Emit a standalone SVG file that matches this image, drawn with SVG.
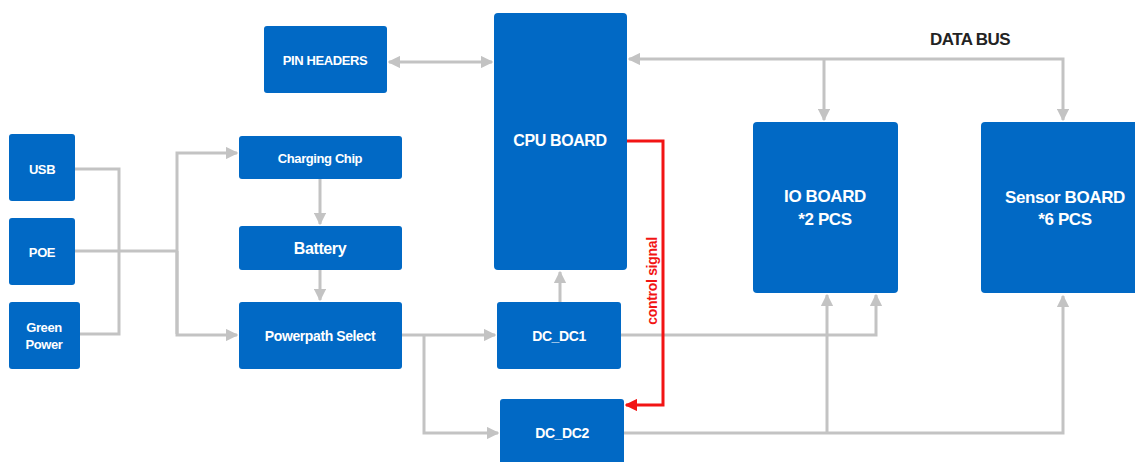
<svg xmlns="http://www.w3.org/2000/svg" width="1135" height="462" viewBox="0 0 1135 462">
  <style>
    .box { fill: #0169C5; }
    .lbl { fill: #ffffff; font-family: "Liberation Sans", Arial, sans-serif; font-weight: bold; text-anchor: middle; letter-spacing: -0.4px; }
    .wire { fill: none; stroke: #C3C3C3; stroke-width: 3; }
    .ctrl { fill: none; stroke: #F21414; stroke-width: 3; }
  </style>
  <defs>
    <marker id="arrow" viewBox="0 0 10 10" refX="9" refY="5" markerWidth="4.2" markerHeight="4.2" orient="auto-start-reverse" markerUnits="strokeWidth">
      <path d="M0,0 L10,5 L0,10 z" fill="#C3C3C3"/>
    </marker>
    <marker id="arrowRed" viewBox="0 0 10 10" refX="9" refY="5" markerWidth="4.2" markerHeight="4.2" orient="auto" markerUnits="strokeWidth">
      <path d="M0,0 L10,5 L0,10 z" fill="#F21414"/>
    </marker>
  </defs>
  <rect width="1135" height="462" fill="#ffffff"/>

  <!-- connectors -->
  <g id="connectors">
    <!-- power sources merge -->
    <polyline class="wire" points="75,169 119,169 119,334 80,334"/>
    <line class="wire" x1="75" y1="251" x2="177" y2="251"/>
    <polyline class="wire" points="177,334 177,153 237,153" marker-end="url(#arrow)"/>
    <polyline class="wire" points="177,251 177,335 237,335" marker-end="url(#arrow)"/>
    <!-- charging chain -->
    <line class="wire" x1="320" y1="179" x2="320" y2="224" marker-end="url(#arrow)"/>
    <line class="wire" x1="320" y1="270" x2="320" y2="300" marker-end="url(#arrow)"/>
    <!-- pin headers <-> cpu -->
    <line class="wire" x1="389" y1="62" x2="492" y2="62" marker-start="url(#arrow)" marker-end="url(#arrow)"/>
    <!-- powerpath to converters -->
    <line class="wire" x1="402" y1="335" x2="495" y2="335" marker-end="url(#arrow)"/>
    <polyline class="wire" points="424,335 424,433 498,433" marker-end="url(#arrow)"/>
    <!-- dc_dc1 to cpu -->
    <line class="wire" x1="560" y1="302" x2="560" y2="272" marker-end="url(#arrow)"/>
    <!-- dc_dc1 to io board -->
    <polyline class="wire" points="621,335 876,335 876,295" marker-end="url(#arrow)"/>
    <!-- dc_dc2 to io and sensor boards -->
    <polyline class="wire" points="624,433 1063,433 1063,296" marker-end="url(#arrow)"/>
    <line class="wire" x1="827" y1="433" x2="827" y2="295" marker-end="url(#arrow)"/>
    <!-- data bus -->
    <polyline class="wire" points="1063,120 1063,59 629,59" marker-start="url(#arrow)" marker-end="url(#arrow)"/>
    <line class="wire" x1="824" y1="59" x2="824" y2="120" marker-end="url(#arrow)"/>
    <!-- control signal -->
    <polyline class="ctrl" points="627,141 663,141 663,405 626,405" marker-end="url(#arrowRed)"/>
    <text x="0" y="0" transform="translate(657,281) rotate(-90)" font-family="'Liberation Sans', Arial, sans-serif" font-weight="bold" font-size="14" fill="#F21414" text-anchor="middle" letter-spacing="-0.3">control signal</text>
    <text x="970" y="45" font-family="'Liberation Sans', Arial, sans-serif" font-weight="bold" font-size="17" fill="#232323" text-anchor="middle" letter-spacing="-0.6">DATA BUS</text>
  </g>

  <!-- nodes -->
  <g id="usb">
    <rect class="box" x="9" y="134" width="66" height="67" rx="3"/>
    <text class="lbl" x="42" y="174" font-size="13">USB</text>
  </g>
  <g id="poe">
    <rect class="box" x="9" y="218" width="66" height="67" rx="3"/>
    <text class="lbl" x="42" y="257" font-size="13">POE</text>
  </g>
  <g id="green-power">
    <rect class="box" x="9" y="302" width="71" height="67" rx="3"/>
    <text class="lbl" x="44" y="332" font-size="13">Green</text>
    <text class="lbl" x="44" y="349" font-size="13">Power</text>
  </g>
  <g id="pin-headers">
    <rect class="box" x="264" y="26" width="123" height="67" rx="3"/>
    <text class="lbl" x="325" y="65" font-size="13">PIN HEADERS</text>
  </g>
  <g id="charging-chip">
    <rect class="box" x="239" y="136" width="163" height="43" rx="3"/>
    <text class="lbl" x="320" y="163" font-size="13">Charging Chip</text>
  </g>
  <g id="battery">
    <rect class="box" x="239" y="226" width="163" height="44" rx="3"/>
    <text class="lbl" x="320" y="254" font-size="16">Battery</text>
  </g>
  <g id="powerpath-select">
    <rect class="box" x="239" y="302" width="163" height="67" rx="3"/>
    <text class="lbl" x="320" y="341" font-size="14">Powerpath Select</text>
  </g>
  <g id="cpu-board">
    <rect class="box" x="494" y="13" width="133" height="257" rx="4"/>
    <text class="lbl" x="560" y="146" font-size="16">CPU BOARD</text>
  </g>
  <g id="dc-dc1">
    <rect class="box" x="497" y="302" width="124" height="67" rx="3"/>
    <text class="lbl" x="559" y="341" font-size="14">DC_DC1</text>
  </g>
  <g id="dc-dc2">
    <rect class="box" x="500" y="399" width="124" height="70" rx="3"/>
    <text class="lbl" x="562" y="438" font-size="14">DC_DC2</text>
  </g>
  <g id="io-board">
    <rect class="box" x="753" y="122" width="145" height="171" rx="4"/>
    <text class="lbl" x="825" y="202" font-size="17">IO BOARD</text>
    <text class="lbl" x="825" y="225" font-size="17">*2 PCS</text>
  </g>
  <g id="sensor-board">
    <rect class="box" x="981" y="122" width="160" height="171" rx="4"/>
    <text class="lbl" x="1065" y="203" font-size="17">Sensor BOARD</text>
    <text class="lbl" x="1065" y="225" font-size="17">*6 PCS</text>
  </g>
</svg>
